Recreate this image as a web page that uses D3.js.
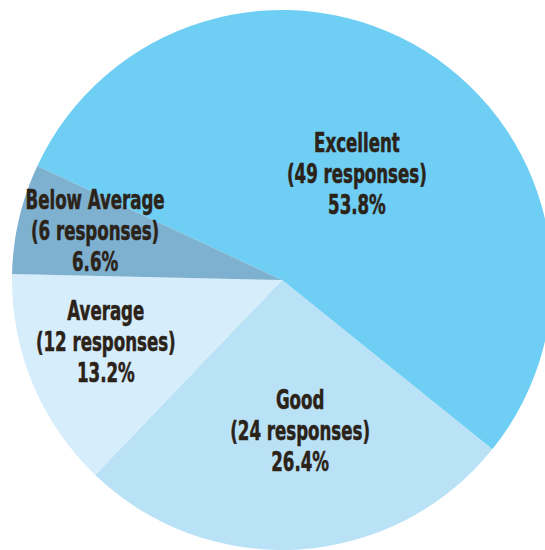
<!DOCTYPE html>
<html>
<head>
<meta charset="utf-8">
<script src="https://cdn.jsdelivr.net/npm/d3@7/dist/d3.min.js"></script>
<style>
  html, body { margin: 0; padding: 0; background: #ffffff; overflow: hidden; }
  svg { display: block; }
  .slice-label { font-family: "DejaVu Sans Condensed", "DejaVu Sans", sans-serif; font-weight: bold; fill: #2b2218; stroke: #2b2218; stroke-width: 0.5px; }
</style>
</head>
<body>
<svg id="chart" width="545" height="550"></svg>
<script>
// Survey ratings
const categories = ["Excellent", "Good", "Average", "Below Average"];
const responses = [49, 24, 12, 6];
const percentLabels = ["53.8%", "26.4%", "13.2%", "6.6%"];

const colors = ["#6ECEF3", "#BAE2F7", "#D6EDFB", "#7EB0D0"];

const width = 545, height = 550;
const cx = 282, cy = 280, radius = 270;

// Where each label block sits: polar position (degrees clockwise from 12 o'clock, px from centre)
const labelPlacement = {
  "Excellent":     { angle: 35.5,  r: 129 },
  "Good":          { angle: 173.2, r: 153 },
  "Average":       { angle: 250.4, r: 187 },
  "Below Average": { angle: 284.4, r: 193 }
};

const data = categories.map((c, i) => ({ category: c, value: responses[i], pct: percentLabels[i], color: colors[i] }));

const startAngle = -65 * Math.PI / 180;
const pie = d3.pie()
  .value(d => d.value)
  .sort(null)
  .startAngle(startAngle)
  .endAngle(startAngle + 2 * Math.PI);

const arc = d3.arc().innerRadius(0).outerRadius(radius);

const svg = d3.select("#chart");
const g = svg.append("g").attr("transform", `translate(${cx},${cy})`);

const arcs = pie(data);

g.selectAll("path.slice")
  .data(arcs)
  .join("path")
  .attr("class", "slice")
  .attr("d", arc)
  .attr("fill", d => d.data.color);

const lineGap = 31;
const labels = g.selectAll("g.label")
  .data(arcs)
  .join("g")
  .attr("class", "label")
  .attr("transform", d => {
    const p = labelPlacement[d.data.category];
    const a = p.angle * Math.PI / 180;
    return `translate(${p.r * Math.sin(a)},${-p.r * Math.cos(a)})`;
  });

// Condensed, tall lettering: squeeze horizontally, stretch slightly vertically
labels.each(function(d) {
  const lines = [d.data.category, `(${d.data.value} responses)`, d.data.pct];
  d3.select(this).selectAll("text")
    .data(lines)
    .join("text")
    .attr("class", "slice-label")
    .attr("text-anchor", "middle")
    .attr("font-size", 25)
    .attr("transform", (t, i) => `translate(0,${(i - 1) * lineGap + 8}) scale(0.74,1.08)`)
    .text(t => t);
});
</script>
</body>
</html>
